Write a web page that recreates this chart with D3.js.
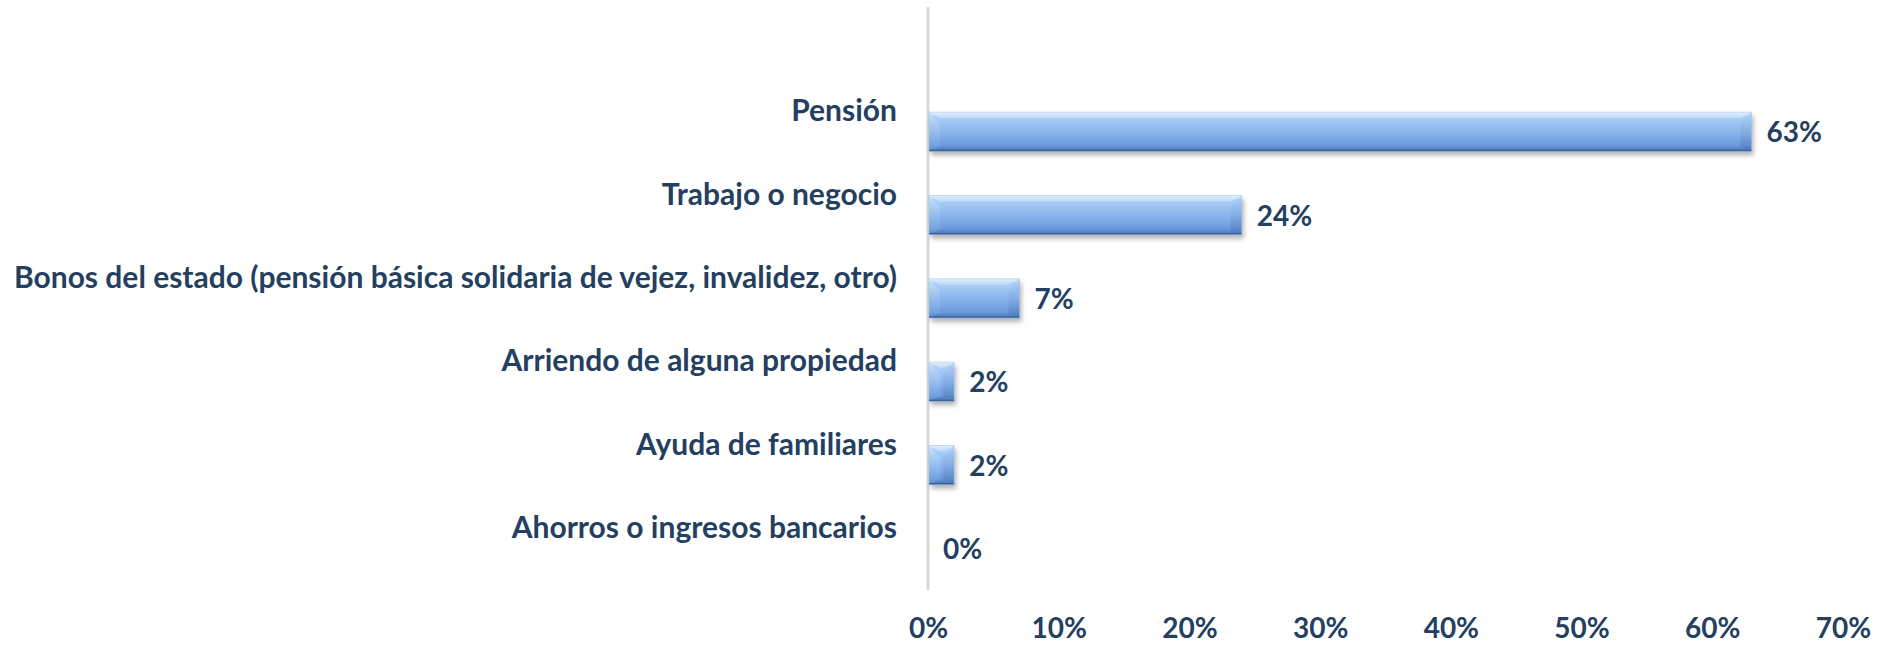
<!DOCTYPE html>
<html>
<head>
<meta charset="utf-8">
<script src="https://cdn.jsdelivr.net/npm/d3@7/dist/d3.min.js"></script>
<style>
  html, body { margin: 0; padding: 0; background: #fff; }
  svg { display: block; }
  text { font-family: Lato, "Noto Sans", sans-serif; font-weight: 700; fill: #243f60; }
</style>
</head>
<body>
<svg id="chart" width="1884" height="646"></svg>
<script>
const categories = [
  "Pensión",
  "Trabajo o negocio",
  "Bonos del estado (pensión básica solidaria de vejez, invalidez, otro)",
  "Arriendo de alguna propiedad",
  "Ayuda de familiares",
  "Ahorros o ingresos bancarios"
];
const values = [63, 24, 7, 2, 2, 0];
const valueLabels = ["63%", "24%", "7%", "2%", "2%", "0%"];
const tickValues = [0, 10, 20, 30, 40, 50, 60, 70];
const tickLabels = ["0%", "10%", "20%", "30%", "40%", "50%", "60%", "70%"];

const svg = d3.select("#chart");
const plot = { left: 928, right: 1843, top: 90, bottom: 590 };

const x = d3.scaleLinear().domain([0, 70]).range([plot.left, plot.right]);
const y = d3.scaleBand().domain(categories).range([plot.top, plot.bottom]).paddingInner(0.53).paddingOuter(0.265);

const defs = svg.append("defs");
const grad = defs.append("linearGradient").attr("id", "barGrad").attr("x1", 0).attr("y1", 0).attr("x2", 0).attr("y2", 1);
[[0, "#d6eafd"], [0.12, "#acd0f8"], [0.5, "#8cb5ec"], [0.85, "#6a9adb"], [1, "#4573b4"]].forEach(([o, c]) =>
  grad.append("stop").attr("offset", o).attr("stop-color", c));
const rgrad = defs.append("linearGradient").attr("id", "rightGrad").attr("x1", 0).attr("y1", 0).attr("x2", 0).attr("y2", 1);
[[0, "#b3d2f6"], [0.5, "#80aae3"], [1, "#4a76b3"]].forEach(([o, c]) =>
  rgrad.append("stop").attr("offset", o).attr("stop-color", c));
const lgrad = defs.append("linearGradient").attr("id", "leftGrad").attr("x1", 0).attr("y1", 0).attr("x2", 0).attr("y2", 1);
[[0, "#d8ebfd"], [0.5, "#9ec4f2"], [1, "#6b9bdb"]].forEach(([o, c]) =>
  lgrad.append("stop").attr("offset", o).attr("stop-color", c));

const filt = defs.append("filter").attr("id", "shadow").attr("x", "-10%").attr("y", "-30%").attr("width", "130%").attr("height", "180%");
filt.append("feDropShadow").attr("dx", 2).attr("dy", 4).attr("stdDeviation", 2.5)
  .attr("flood-color", "#000").attr("flood-opacity", 0.3);

// vertical axis line
svg.append("line")
  .attr("x1", x(0)).attr("x2", x(0))
  .attr("y1", 7).attr("y2", plot.bottom)
  .attr("stroke", "#d9d9d9").attr("stroke-width", 3);

// bars
const bars = svg.append("g").selectAll("g.bar")
  .data(categories.map((c, i) => ({ c, v: values[i], label: valueLabels[i] })))
  .join("g").attr("class", "bar");

bars.each(function(d) {
  if (d.v <= 0) return;
  const g = d3.select(this);
  const x0 = x(0) + 1, x1 = x(d.v), y0 = y(d.c), y1 = y(d.c) + y.bandwidth();
  const h = y1 - y0;
  const bx = Math.min(11, (x1 - x0) / 2), by = Math.min(12, h / 2);
  g.append("rect").attr("x", x0).attr("y", y0).attr("width", x1 - x0).attr("height", h)
    .attr("fill", "url(#barGrad)").attr("filter", "url(#shadow)");
  // top bevel
  g.append("polygon").attr("points", [[x0, y0], [x1, y0], [x1 - bx, y0 + by * 0.5], [x0 + bx, y0 + by * 0.5]].map(p => p.join(",")).join(" "))
    .attr("fill", "#ffffff").attr("opacity", 0.3);
  // left bevel
  g.append("polygon").attr("points", [[x0, y0], [x0 + bx, y0 + by], [x0 + bx, y1 - by * 0.4], [x0, y1]].map(p => p.join(",")).join(" "))
    .attr("fill", "url(#leftGrad)").attr("opacity", 0.55);
  // right bevel
  g.append("polygon").attr("points", [[x1, y0], [x1, y1], [x1 - bx, y1 - by * 0.4], [x1 - bx, y0 + by]].map(p => p.join(",")).join(" "))
    .attr("fill", "url(#rightGrad)").attr("opacity", 0.7);
  // bottom edge
  g.append("line").attr("x1", x0).attr("x2", x1).attr("y1", y1 - 0.75).attr("y2", y1 - 0.75)
    .attr("stroke", "#335c96").attr("stroke-width", 1.5);
  g.append("rect").attr("x", x0).attr("y", y0).attr("width", x1 - x0).attr("height", h)
    .attr("fill", "none").attr("stroke", "#9fc0e8").attr("stroke-width", 0.8).attr("opacity", 0.6);
});

// value labels
bars.append("text")
  .attr("x", d => x(d.v) + 15)
  .attr("y", d => y(d.c) + y.bandwidth() / 2 + 10.5)
  .attr("font-size", 28)
  .text(d => d.label);

// category labels
svg.append("g").selectAll("text")
  .data(categories)
  .join("text")
  .attr("x", 897)
  .attr("y", d => y(d) + y.bandwidth() / 2 - 10.5)
  .attr("text-anchor", "end")
  .attr("font-size", 30)
  .text(d => d);

// x axis tick labels
const xAxis = d3.axisBottom(x).tickValues(tickValues).tickFormat((d, i) => tickLabels[i]).tickSize(0).tickPadding(0);
const ax = svg.append("g").attr("transform", `translate(0, 618)`).call(xAxis);
ax.select(".domain").remove();
ax.selectAll("text")
  .attr("font-size", 28)
  .attr("dy", null)
  .attr("y", 20)
  .attr("font-family", "Lato, 'Noto Sans', sans-serif")
  .attr("font-weight", 700)
  .attr("fill", "#243f60");
</script>
</body>
</html>
